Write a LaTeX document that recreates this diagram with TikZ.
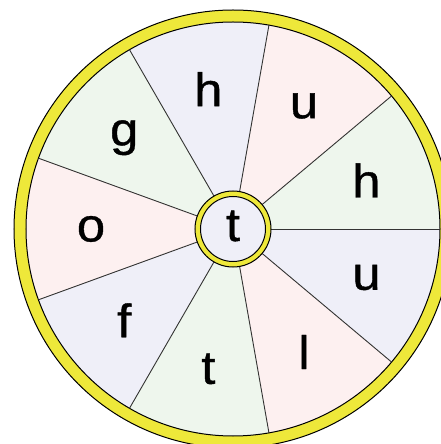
\documentclass[tikz,border=0pt]{standalone}
\usepackage{fontspec}
\setmainfont{Liberation Sans}
\newfontfamily\wheelfont[FakeBold=0.8,FakeStretch=1.08]{Liberation Sans}
\definecolor{sblue}{RGB}{239,239,248}
\definecolor{spink}{RGB}{253,240,240}
\definecolor{sgreen}{RGB}{238,246,237}
\definecolor{ringyellow}{RGB}{238,232,58}
\begin{document}
\begin{tikzpicture}[x=1pt,y=1pt,
  letter/.style={font=\wheelfont\fontsize{47}{50}\selectfont, inner sep=0pt},
  divider/.style={draw=black!80, line width=0.9pt},
  ring/.style={draw=black, line width=1pt, fill=ringyellow}]
\useasboundingbox (-233,-215) rectangle (207,229);
\draw[ring] (0,0) circle (219);
\foreach \s/\c in {0/sgreen,40/spink,80/sblue,120/sgreen,160/spink,200/sblue,240/sgreen,280/spink,320/sblue}
  \fill[\c] (0,0) -- (\s:207) arc[start angle=\s, end angle=\s+40, radius=207] -- cycle;
\draw[line width=1pt] (0,0) circle (207);
\foreach \s in {0,40,...,320} \draw[divider] (\s:38) -- (\s:207);
\draw[ring] (0,0) circle (38);
\draw[line width=1pt, fill=sblue] (0,0) circle (32.5);
\node[letter] (hub) at (0,3) {t};
\foreach \a/\t/\n in {20/h/a,60/u/b,100/h/c,140/g/d,180/o/e,220/f/f,260/t/g,300/l/h,340/u/i}
  \node[letter] (L\n) at (\a:142) {\t};
\end{tikzpicture}
\end{document}
